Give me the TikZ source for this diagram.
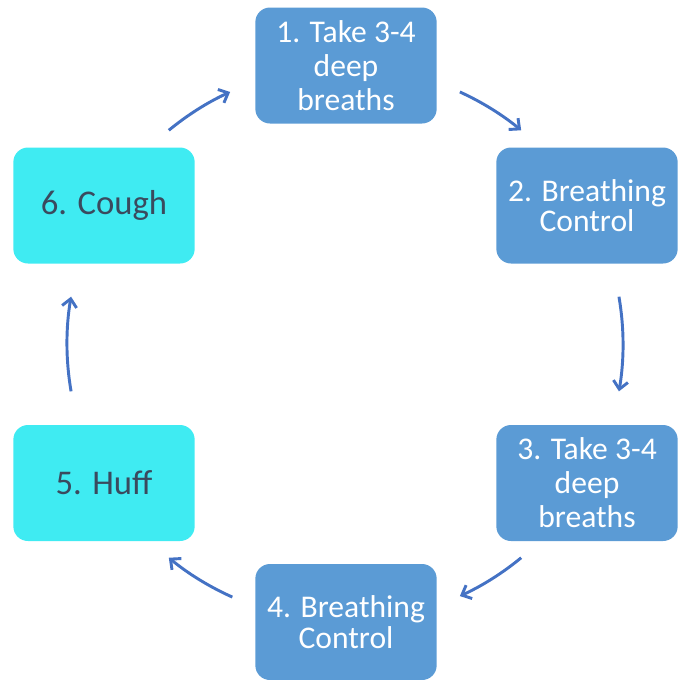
\documentclass[tikz,border=0pt]{standalone}
\usepackage{fontspec}
\setmainfont{Carlito}
\usetikzlibrary{arrows.meta,calc}
\definecolor{boxblue}{HTML}{5B9BD5}
\definecolor{boxcyan}{HTML}{3FEBF2}
\definecolor{cyantext}{HTML}{3A4A5E}
\definecolor{arrowblue}{HTML}{4472C4}
\begin{document}
\begin{tikzpicture}[x=0.75pt,y=0.75pt,
  stepbox/.style={rounded corners=11pt,minimum width=136pt,minimum height=87pt,
    align=center,inner sep=0pt},
  bluebox/.style={stepbox,fill=boxblue,text=white},
  cyanbox/.style={stepbox,fill=boxcyan,text=cyantext,font=\fontsize{26}{30}\selectfont},
  threeline/.style={font=\fontsize{23.7}{25.5}\selectfont},
  twoline/.style={font=\fontsize{23.7}{23}\selectfont},
  arr/.style={draw=arrowblue,line width=2.2pt,-{Straight Barb[length=6pt,width=11pt,line width=2.2pt]}}]
\useasboundingbox (0,0) rectangle (680,-679);
\coordinate (c) at (345,-344);
\node[bluebox,threeline] (n1) at (346,-65.5) {1. Take 3-4\\deep\\breaths};
\node[bluebox,twoline] (n2) at (587,-205.5) {2. Breathing\\Control};
\node[bluebox,threeline] (n3) at (587,-483) {3. Take 3-4\\deep\\breaths};
\node[bluebox,twoline] (n4) at (346,-622) {4. Breathing\\Control};
\node[cyanbox] (n5) at (104,-483) {5. Huff};
\node[cyanbox] (n6) at (104,-205.5) {6. Cough};
\draw[arr] ($(c)+(65.5:277)$) arc[start angle=65.5, end angle=50.5, radius=277];
\draw[arr] ($(c)+(9.8:278)$) arc[start angle=9.8, end angle=-9.8, radius=278];
\draw[arr] ($(c)+(-50.5:277)$) arc[start angle=-50.5, end angle=-65.5, radius=277];
\draw[arr] ($(c)+(-114:277)$) arc[start angle=-114, end angle=-129.5, radius=277];
\draw[arr] ($(c)+(189.8:278)$) arc[start angle=189.8, end angle=170.2, radius=278];
\draw[arr] ($(c)+(129.5:277)$) arc[start angle=129.5, end angle=114.5, radius=277];
\end{tikzpicture}
\end{document}
